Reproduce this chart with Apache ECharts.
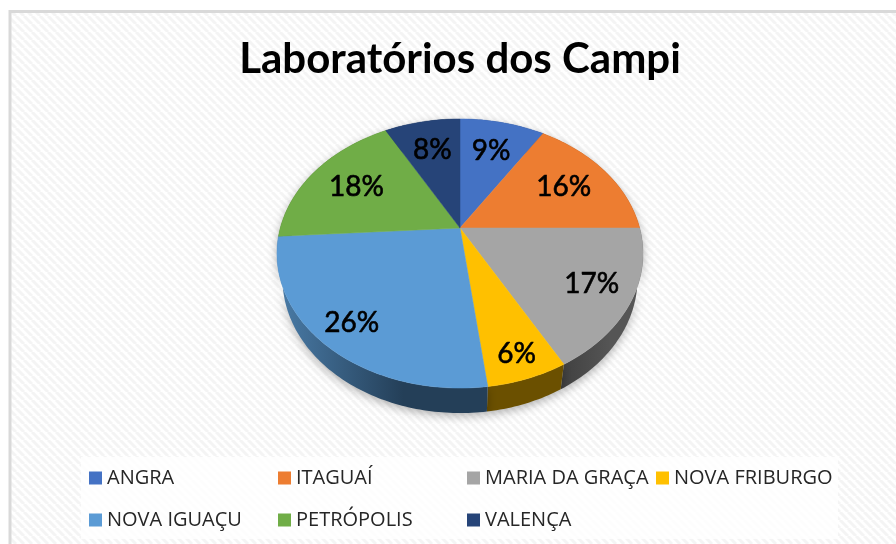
<!DOCTYPE html>
<html>
<head>
<meta charset="utf-8">
<style>html,body{margin:0;padding:0;background:#fff}#main{width:896px;height:544px}</style>
<script src="https://cdn.jsdelivr.net/npm/echarts@6/dist/echarts.min.js"></script>
</head>
<body>
<div id="main"></div>
<script>
var categories = ['ANGRA', 'ITAGUAÍ', 'MARIA DA GRAÇA', 'NOVA FRIBURGO', 'NOVA IGUAÇU', 'PETRÓPOLIS', 'VALENÇA'];
var percents = [9, 16, 17, 6, 26, 18, 8];
var colors = ['#4472c4', '#ed7d31', '#a5a5a5', '#ffc000', '#5b9bd5', '#70ad47', '#264478'];
var sideColors = [
    ['#2a4478', '#2a4478'],
    ['#8e4b1d', '#8e4b1d'],
    ['#404040', '#555555'],
    ['#6b5000', '#6b5000'],
    ['#4a7ca8', '#243f58'],
    ['#43682b', '#43682b'],
    ['#172947', '#172947']
];

// pie geometry: a tilted circle seen in perspective
var cx = 460, cy = 228, ra = 179.7, rb = 129.7, persp = 0.1896;
var depth = 25, baseScale = 0.97;

function project(deg, r) {
    var t = deg * Math.PI / 180;
    var v = -Math.cos(t) * r;
    var d = 1 - persp * v;
    return [cx + ra * Math.sin(t) * r / d, cy + rb * v / d];
}

function sliceAngles(i) {
    var before = 0;
    for (var k = 0; k < i; k++) before += percents[k];
    return [before * 3.6, (before + percents[i]) * 3.6];
}

function rim(a, b) {
    var pts = [];
    for (var d = a; d < b; d += 1) pts.push(project(d, 1));
    pts.push(project(b, 1));
    return pts;
}

function renderSide(params, api) {
    var ang = sliceAngles(params.dataIndex);
    var top = rim(ang[0], ang[1]);
    var low = top.map(function (p) {
        return [cx + (p[0] - cx) * baseScale, p[1] + depth];
    }).reverse();
    var c = sideColors[params.dataIndex];
    return {
        type: 'polygon',
        shape: { points: top.concat(low) },
        style: {
            fill: { type: 'linear', x: 0, y: 0, x2: 1, y2: 0, colorStops: [{ offset: 0, color: c[0] }, { offset: 0.6, color: c[1] }] },
            shadowBlur: 10,
            shadowColor: 'rgba(0,0,0,0.3)',
            shadowOffsetY: 3
        }
    };
}

function renderTop(i) {
    return function (params, api) {
        var ang = sliceAngles(i);
        var mid = (ang[0] + ang[1]) / 2;
        var down = Math.max(0, -Math.cos(mid * Math.PI / 180));
        var pos = project(mid, 0.7 + 0.17 * down);
        var col = api.visual('color');
        return {
            type: 'group',
            children: [{
                type: 'polygon',
                shape: { points: [[cx, cy]].concat(rim(ang[0], ang[1])) },
                style: { fill: col, stroke: col, lineWidth: 0.5 }
            }, {
                type: 'text',
                z2: 10,
                style: {
                    x: pos[0], y: pos[1],
                    text: api.value(0) + '%',
                    fill: '#000',
                    stroke: '#000',
                    lineWidth: 0.6,
                    font: '28px Lato',
                    align: 'center',
                    verticalAlign: 'middle'
                }
            }]
        };
    };
}

// hatch tile for the chart area
var tile = document.createElement('canvas');
tile.width = 8;
tile.height = 8;
var tc = tile.getContext('2d');
tc.fillStyle = '#fff';
tc.fillRect(0, 0, 8, 8);
tc.strokeStyle = '#f4f4f4';
tc.lineWidth = 3;
[-8, 0, 8].forEach(function (o) {
    tc.beginPath();
    tc.moveTo(o, 0);
    tc.lineTo(o + 8, 8);
    tc.stroke();
});

var series = [{
    name: 'lados',
    type: 'custom',
    coordinateSystem: 'none',
    silent: true,
    z: 1,
    data: percents,
    renderItem: renderSide
}];
categories.forEach(function (name, i) {
    series.push({
        name: name,
        type: 'custom',
        coordinateSystem: 'none',
        z: 2,
        itemStyle: { color: colors[i] },
        data: [percents[i]],
        renderItem: renderTop(i)
    });
});

// four legend columns on two rows, one legend per entry
var legendLeft = [89, 278, 467, 656];
var legendTop = [468, 510];
var legends = categories.map(function (name, i) {
    return {
        data: [name],
        left: legendLeft[i % 4],
        top: legendTop[Math.floor(i / 4)],
        padding: 0,
        icon: 'rect',
        itemWidth: 13,
        itemHeight: 13,
        textStyle: { fontFamily: 'Open Sans', fontSize: 20, color: '#262626' }
    };
});

var myChart = echarts.init(document.getElementById('main'));
option = {
    animation: false,
    title: {
        text: 'Laboratórios dos Campi',
        left: 460,
        top: 33,
        textAlign: 'center',
        textStyle: { fontFamily: 'Lato', fontWeight: 'bold', fontSize: 42, color: '#000' },
        padding: [5, 11, 5, 0]
    },
    graphic: [{
        type: 'rect',
        z: -10,
        shape: { x: 10, y: 11.5, width: 900, height: 540 },
        style: { fill: { image: tile, repeat: 'repeat' }, stroke: '#d9d9d9', lineWidth: 3 }
    }, {
        type: 'rect',
        z: -9,
        shape: { x: 81, y: 457, width: 757, height: 82 },
        style: { fill: 'rgba(255,255,255,0.8)' }
    }],
    legend: legends,
    series: series
};
myChart.setOption(option);
</script>
</body>
</html>
